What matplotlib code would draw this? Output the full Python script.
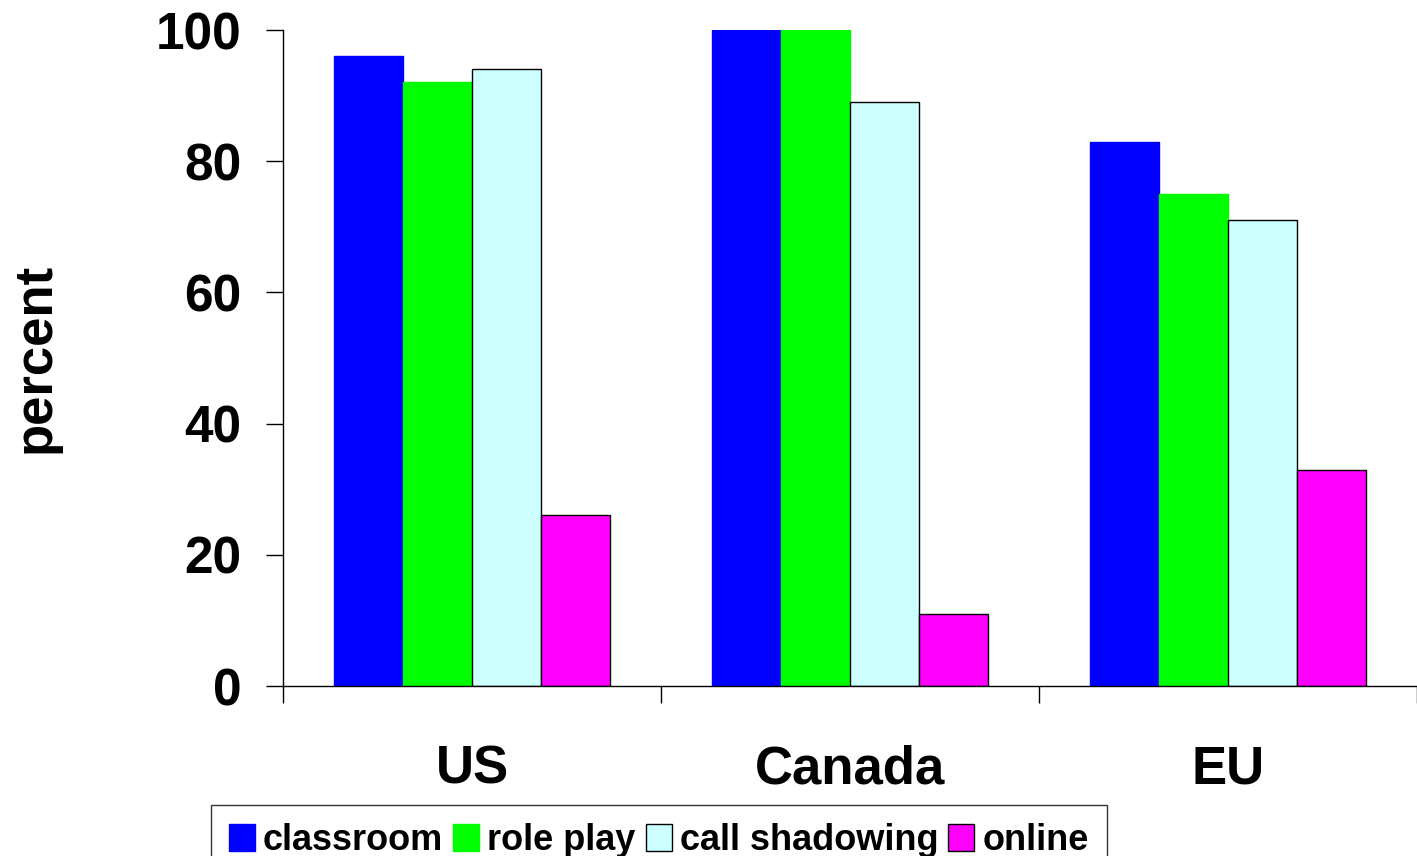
import matplotlib
matplotlib.use('Agg')
import matplotlib.pyplot as plt
import numpy as np

# data
regions = ['US', 'Canada', 'EU']
series = ['classroom', 'role play', 'call shadowing', 'online']
classroom = [96, 100, 83]
role_play = [92, 100, 75]
call_shadowing = [94, 89, 71]
online = [26, 11, 33]
yticks = [0, 20, 40, 60, 80, 100]

values = [classroom, role_play, call_shadowing, online]
colors = ['#0000ff', '#00ff00', '#ccffff', '#ff00ff']
edges = ['#0000ff', '#00ff00', 'black', 'black']

plt.rcParams['font.family'] = ['Liberation Sans', 'DejaVu Sans']
plt.rcParams['font.weight'] = 'bold'

fig = plt.figure(figsize=(14.17, 8.56), dpi=100)
ax = fig.add_axes([283 / 1417, 1 - 686 / 856, 1 - 283 / 1417, (686 - 30) / 856])

x = np.arange(len(regions))
w = 0.183
for i, (vals, c, ec) in enumerate(zip(values, colors, edges)):
    ax.bar(x + (i - 1.5) * w, vals, w, color=c, edgecolor=ec, linewidth=1,
           label=series[i], zorder=2)

ax.set_xlim(-0.5, 2.5)
ax.set_ylim(0, 100)
ax.set_yticks(yticks)
ax.tick_params(axis='y', length=12, width=1, pad=18, labelsize=37)

# major ticks at group edges, labels at group centres
ax.set_xticks([-0.5, 0.5, 1.5, 2.5])
ax.set_xticklabels([])
ax.set_xticks(x, minor=True)
ax.set_xticklabels(regions, minor=True, fontsize=38, fontweight='bold')
ax.tick_params(axis='x', which='major', length=12, width=1)
ax.tick_params(axis='x', which='minor', length=0, pad=42)

for s in ['top', 'right']:
    ax.spines[s].set_visible(False)
for s in ['left', 'bottom']:
    ax.spines[s].set_linewidth(1)

ax.set_ylabel('percent', fontsize=38, fontweight='bold')
ax.yaxis.set_label_coords(-0.196, 0.5)

leg = fig.legend(loc='upper left', bbox_to_anchor=(211 / 1417, 1 - 805 / 856),
                 ncol=4, fontsize=26, frameon=True, fancybox=False,
                 edgecolor='black', handlelength=0.72, handleheight=0.75,
                 handletextpad=0.22, columnspacing=0.28, borderpad=0.5,
                 borderaxespad=0)
leg.get_frame().set_linewidth(1)
for t in leg.get_texts():
    t.set_fontweight('bold')

fig.savefig('out.png', dpi=100)
